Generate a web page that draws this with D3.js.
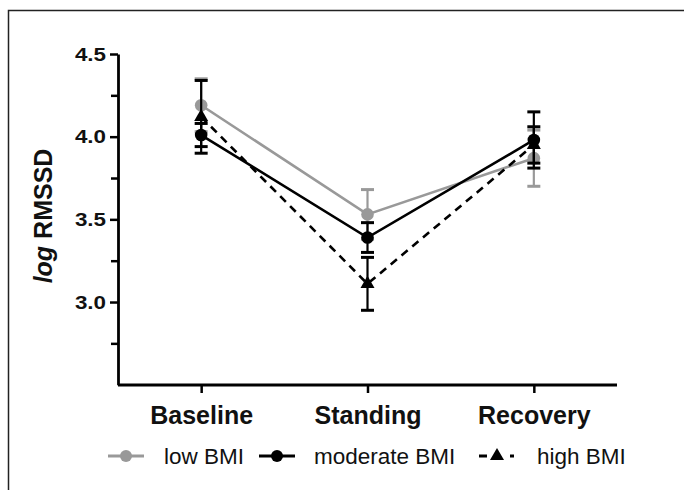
<!DOCTYPE html>
<html><head><meta charset="utf-8">
<script src="https://cdn.jsdelivr.net/npm/d3@7"></script>
<style>
html,body{margin:0;padding:0;background:#fff;}
svg{display:block;font-family:"Liberation Sans",Arial,sans-serif;}
</style></head>
<body><svg id="chart" width="684" height="490"></svg>
<script>
const categories = ["Baseline", "Standing", "Recovery"];
const seriesNames = ["low BMI", "moderate BMI", "high BMI"];
const lowMean = [4.19, 3.53, 3.87];
const lowErr = [0.16, 0.15, 0.17];
const modMean = [4.01, 3.39, 3.98];
const modErr = [0.07, 0.09, 0.17];
const highMean = [4.12, 3.11, 3.95];
const highErr = [0.22, 0.16, 0.11];
const yTicks = [3.0, 3.5, 4.0, 4.5];
const yMinorTicks = [2.75, 3.25, 3.75, 4.25];
const yDomain = [2.5, 4.5];

const series = [
  {name: seriesNames[0], mean: lowMean, err: lowErr, color: "#999999", dash: null, legendDash: null, marker: "circle"},
  {name: seriesNames[1], mean: modMean, err: modErr, color: "#000000", dash: null, legendDash: null, marker: "circle"},
  {name: seriesNames[2], mean: highMean, err: highErr, color: "#000000", dash: "8,6", legendDash: "8,23,4,100", marker: "triangle"}
];

const svg = d3.select("#chart");
// frame
svg.append("path").attr("d", "M8.5,490 L8.5,10.5 L684,10.5")
  .attr("fill", "none").attr("stroke", "#222").attr("stroke-width", 1.5);

const x = d3.scalePoint().domain(categories).range([118, 617]).padding(0.5);
const y = d3.scaleLinear().domain(yDomain).range([384.7, 54]);

// minor y ticks
svg.append("g").attr("transform", "translate(118,0)")
  .call(d3.axisLeft(y).tickValues(yMinorTicks).tickSize(7).tickFormat("").tickSizeOuter(0))
  .call(g => g.select(".domain").remove())
  .call(g => g.selectAll("line").attr("stroke", "#000").attr("stroke-width", 2.5));

// major y axis
const yAx = svg.append("g").attr("transform", "translate(118,0)")
  .call(d3.axisLeft(y).tickValues(yTicks).tickSize(8).tickSizeOuter(0).tickFormat(d3.format(".1f")));
yAx.select(".domain").attr("stroke", "#000").attr("stroke-width", 2.8);
yAx.selectAll(".tick line").attr("stroke", "#000").attr("stroke-width", 2.5);
yAx.selectAll(".tick text")
  .attr("font-size", 17.5).attr("font-weight", "bold").attr("fill", "#111")
  .attr("font-family", "Liberation Sans, Arial, sans-serif")
  .attr("x", -12 / 1.28).attr("dy", "0.36em")
  .attr("transform", "scale(1.28,1)");

// x axis
const xAx = svg.append("g").attr("transform", "translate(0,385)")
  .call(d3.axisBottom(x).tickSize(8).tickSizeOuter(0));
xAx.select(".domain").attr("stroke", "#000").attr("stroke-width", 2.8)
  .attr("d", "M118,0H617");
xAx.selectAll(".tick line").attr("stroke", "#000").attr("stroke-width", 2.5);
xAx.selectAll(".tick text")
  .attr("font-size", 25).attr("font-weight", "bold").attr("fill", "#111")
  .attr("font-family", "Liberation Sans, Arial, sans-serif")
  .attr("y", 39).attr("dy", 0);

// y label
const yl = svg.append("text").attr("transform", "translate(52,216) rotate(-90)")
  .attr("text-anchor", "middle").attr("font-size", 25).attr("font-weight", "bold").attr("fill", "#111");
yl.append("tspan").attr("font-style", "italic").text("log");
yl.append("tspan").text(" RMSSD");

const line = d3.line().x((d, i) => x(categories[i])).y(d => y(d));
const triPath = d3.symbol().type(d3.symbolTriangle).size(85)();

series.forEach(s => {
  const g = svg.append("g");
  g.append("path").datum(s.mean).attr("d", line)
    .attr("fill", "none").attr("stroke", s.color).attr("stroke-width", 2.6)
    .attr("stroke-dasharray", s.dash);
  // error bars
  s.mean.forEach((m, i) => {
    const cx = x(categories[i]);
    const e = s.err[i];
    g.append("line").attr("x1", cx).attr("x2", cx).attr("y1", y(m + e)).attr("y2", y(m - e))
      .attr("stroke", s.color).attr("stroke-width", 2.2);
    [m + e, m - e].forEach(v => {
      g.append("line").attr("x1", cx - 6.5).attr("x2", cx + 6.5).attr("y1", y(v)).attr("y2", y(v))
        .attr("stroke", s.color).attr("stroke-width", 3);
    });
    if (s.marker === "circle") {
      g.append("circle").attr("cx", cx).attr("cy", y(m)).attr("r", 6.3).attr("fill", s.color);
    } else {
      g.append("path").attr("d", triPath).attr("transform", `translate(${cx},${y(m)})`).attr("fill", s.color);
    }
  });
});

// legend
const legendPos = [
  {x0: 108, x1: 144, tx: 164},
  {x0: 259, x1: 295, tx: 314},
  {x0: 479, x1: 517, tx: 537}
];
const ly = 456;
series.forEach((s, i) => {
  const p = legendPos[i];
  const g = svg.append("g");
  g.append("line").attr("x1", p.x0).attr("x2", p.x1).attr("y1", ly).attr("y2", ly)
    .attr("stroke", s.color).attr("stroke-width", 2.8).attr("stroke-dasharray", s.legendDash);
  const mx = s.marker === "triangle" ? 497 : (p.x0 + p.x1) / 2;
  if (s.marker === "circle") {
    g.append("circle").attr("cx", mx).attr("cy", ly).attr("r", 6).attr("fill", s.color);
  } else {
    g.append("path").attr("d", triPath).attr("transform", `translate(${mx},${ly})`).attr("fill", s.color);
  }
  g.append("text").attr("x", p.tx).attr("y", ly + 8).attr("font-size", 22.5).attr("fill", "#111")
    .text(s.name);
});
</script></body></html>
